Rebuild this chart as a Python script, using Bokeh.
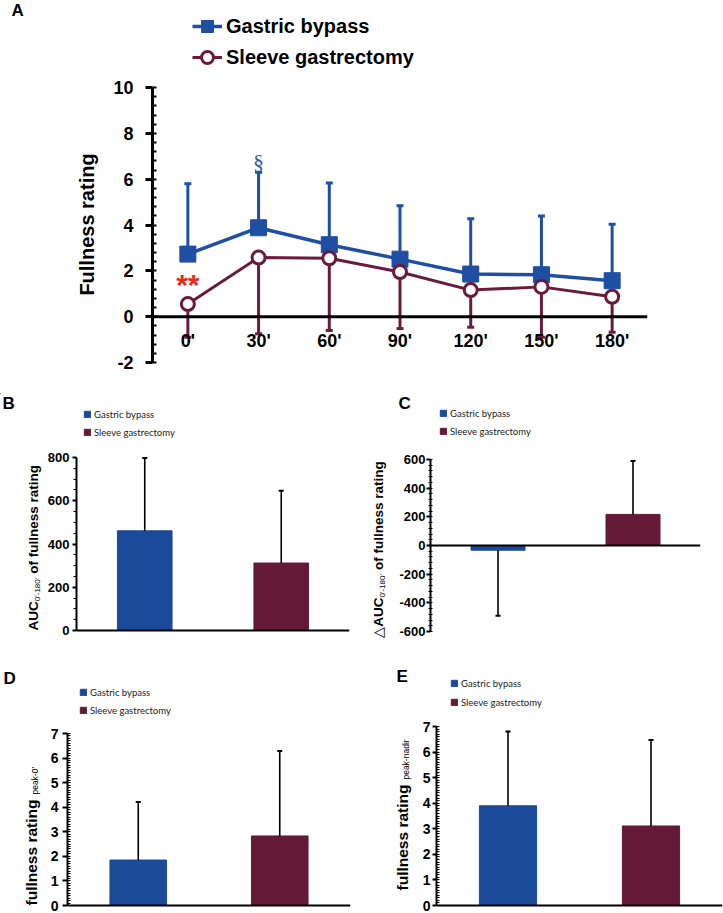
import math
from bokeh.plotting import figure
from bokeh.layouts import column, row
from bokeh.models import Label, Legend, LegendItem, FixedTicker
from bokeh.core.properties import value
from bokeh.embed import file_html
from bokeh.resources import INLINE

# ---------------- data ----------------
time_labels = ["0'", "30'", "60'", "90'", "120'", "150'", "180'"]
gb_mean = [2.73, 3.88, 3.14, 2.51, 1.86, 1.83, 1.57]
gb_sd = [3.07, 2.42, 2.69, 2.33, 2.41, 2.56, 2.46]
sg_mean = [0.55, 2.58, 2.55, 1.95, 1.16, 1.30, 0.87]
sg_sd = [1.45, 3.33, 3.15, 2.47, 1.62, 2.20, 1.55]

groups = ["Gastric bypass", "Sleeve gastrectomy"]
auc_mean = [461, 312]
auc_sd = [337, 334]
dauc_mean = [-33, 217]
dauc_sd = [457, 373]
peak0_mean = [1.85, 2.83]
peak0_sd = [2.36, 3.46]
peaknadir_mean = [3.90, 3.11]
peaknadir_sd = [2.90, 3.36]

# ---------------- style ----------------
FONT = "Liberation Sans"
LEG_FONT = "Lato"
BLUE = "#1f4fa3"
RED = "#6a1b3c"
BLUE_BAR = "#1b4a9b"
RED_BAR = "#641937"
BAR_COLORS = [BLUE_BAR, RED_BAR]

AR = {' ': 278, "'": 191, '-': 333, '0': 556, '1': 556, '8': 556, 'A': 667, 'C': 722, 'U': 722,
      'a': 556, 'd': 556, 'e': 556, 'f': 278, 'g': 556, 'i': 222, 'k': 500, 'l': 222, 'n': 556,
      'o': 556, 'p': 556, 'r': 333, 's': 500, 't': 278, 'u': 556, '△': 770}
ARB = {' ': 278, "'": 238, '-': 333, '0': 556, '1': 556, '8': 556, 'A': 722, 'C': 722, 'U': 722,
       'a': 556, 'd': 611, 'e': 556, 'f': 333, 'g': 611, 'i': 278, 'k': 556, 'l': 278, 'n': 611,
       'o': 611, 'p': 611, 'r': 389, 's': 556, 't': 333, 'u': 611, '△': 770}


def tw(s, size, bold):
    t = ARB if bold else AR
    return sum(t.get(c, 556) for c in s) / 1000 * size


def clean(p):
    p.outline_line_color = None
    p.grid.visible = False
    p.background_fill_color = "white"
    p.border_fill_color = "white"
    return p


class Main:
    """Figure whose frame spans the full figure height; data area placed in pixels."""
    def __init__(self, W, H, left, right, xr, y0, y1, py0, py1):
        ppu = (py0 - py1) / (y1 - y0)
        self.H = H
        self.xr = xr
        self.yr = (y0 - (H - py0) / ppu, y1 + py1 / ppu)
        self.y0, self.y1 = y0, y1
        self.p = clean(figure(width=W, height=H, x_range=xr, y_range=self.yr,
                              output_backend="svg", toolbar_location=None,
                              x_axis_location=None, min_border_left=left,
                              min_border_right=W - right, min_border_top=0,
                              min_border_bottom=0))

    def y(self, py):
        return self.yr[0] + (self.H - py) * (self.yr[1] - self.yr[0]) / self.H


def text_fig(W, H):
    p = figure(width=W, height=H, x_range=(0, W), y_range=(H, 0), output_backend="svg",
               toolbar_location=None, x_axis_location=None, y_axis_location=None,
               min_border=0, min_border_left=0, min_border_right=0, min_border_top=0,
               min_border_bottom=0)
    return clean(p)


def style_yaxis(m, majors, minors, size, lw, tick_out, minor_in, minor_out, standoff):
    ax = m.p.yaxis[0]
    ax.ticker = FixedTicker(ticks=majors, minor_ticks=minors)
    ax.bounds = (m.y0, m.y1)
    ax.major_label_overrides = {t: str(t) for t in majors}
    ax.axis_line_width = lw
    ax.axis_line_color = "black"
    ax.major_tick_line_width = lw
    ax.major_tick_line_color = "black"
    ax.minor_tick_line_width = max(1, lw - 1)
    ax.minor_tick_line_color = "black"
    ax.major_tick_out = tick_out
    ax.major_tick_in = 0
    ax.minor_tick_out = minor_out
    ax.minor_tick_in = minor_in
    ax.major_label_text_font = FONT
    ax.major_label_text_font_size = f"{size}px"
    ax.major_label_text_font_style = "bold"
    ax.major_label_text_color = "black"
    ax.major_label_standoff = standoff


def label(p, x, y, text, size, bold=True, color="black", align="left",
          baseline="top", angle=0.0, font=FONT):
    p.add_layout(Label(x=x, y=y, text=text, text_font=font, text_font_size=f"{size}px",
                       text_font_style="bold" if bold else "normal",
                       text_color=color, text_align=align, text_baseline=baseline,
                       angle=angle))


def gtext(p, x, y, text, size, bold=True, align="left", baseline="top", angle=0.0,
          color="black", font=FONT):
    p.text(x=[x], y=[y], text=[text], angle=angle, text_align=align,
           text_baseline=baseline, text_font=value(font),
           text_font_size=value(f"{size}px"),
           text_font_style="bold" if bold else "normal", text_color=color)


def vlabel(p, segs, cx, py_bottom):
    # segs: (text, size, bold, dx, gap_before_px)
    py = py_bottom
    for text, size, bold, dx, gap in segs:
        py -= gap
        w = tw(text, size, bold)
        gtext(p, cx + dx, py - w / 2, text, size, bold=bold, align="center",
              baseline="middle", angle=math.pi / 2)
        py -= w


def bar_legend(p, rs, loc, spacing=6):
    items = [LegendItem(label=value(g), renderers=[r]) for g, r in zip(groups, rs)]
    lg = Legend(items=items, location=loc, orientation="vertical",
                label_text_font=LEG_FONT, label_text_font_size="9.5px",
                label_text_color="#222222", glyph_width=8, glyph_height=8,
                label_height=12, spacing=spacing, padding=0, margin=0,
                label_standoff=3, border_line_color=None, background_fill_alpha=0)
    p.add_layout(lg)


def bar_panel(m, means, sds, majors, minors, tick_size, tick_out, minor_in, minor_out,
              standoff):
    p = m.p
    style_yaxis(m, majors, minors, tick_size, 2, tick_out, minor_in, minor_out, standoff)
    xs = [i + 0.5 for i in range(len(groups))]
    rs = []
    for i, c in enumerate(BAR_COLORS):
        rs.append(p.vbar(x=[xs[i]], top=[means[i]], width=0.4, fill_color=c, line_color=c))
    ends = [mu + (s if mu >= 0 else -s) for mu, s in zip(means, sds)]
    p.segment(x0=xs, y0=means, x1=xs, y1=ends, line_color="black", line_width=1.6)
    p.scatter(xs, ends, marker="dash", size=5, line_color="black", line_width=2)
    p.segment(x0=[m.xr[0]], y0=[0], x1=[m.xr[1]], y1=[0], line_color="black", line_width=2)
    return rs


# ---------------- panel A ----------------
LA = text_fig(100, 393)
gtext(LA, 11, 0, "A", 17)
gtext(LA, 86, 224, "Fullness rating", 20, align="center", baseline="middle",
      angle=math.pi / 2)

mA = Main(623, 393, 52, 547, (-0.5, len(time_labels) - 0.5), -2, 10, 362, 87)
pA = mA.p
style_yaxis(mA, list(range(-2, 11, 2)), [round(-2 + 0.4 * k, 2) for k in range(31)],
            18, 3, 7, 4, 0, 12)

x_idx = list(range(len(time_labels)))
gb_top = [mu + s for mu, s in zip(gb_mean, gb_sd)]
sg_bot = [mu - s for mu, s in zip(sg_mean, sg_sd)]

pA.segment(x0=x_idx, y0=gb_mean, x1=x_idx, y1=gb_top, line_color=BLUE, line_width=3)
pA.scatter(x_idx, gb_top, marker="dash", size=7, line_color=BLUE, line_width=3)
bline = pA.line(x_idx, gb_mean, line_color=BLUE, line_width=3.5)
bsq = pA.scatter(x_idx, gb_mean, marker="square", size=16, fill_color=BLUE, line_color=BLUE)

pA.segment(x0=x_idx, y0=sg_mean, x1=x_idx, y1=sg_bot, line_color=RED, line_width=3)
pA.scatter(x_idx, sg_bot, marker="dash", size=7, line_color=RED, line_width=3)
rline = pA.line(x_idx, sg_mean, line_color=RED, line_width=3)
rc = pA.scatter(x_idx, sg_mean, marker="circle", size=13, fill_color="white",
                line_color=RED, line_width=3)

pA.segment(x0=[mA.xr[0]], y0=[0], x1=[mA.xr[1]], y1=[0], line_color="black", line_width=3)

for i, t in enumerate(time_labels):
    label(pA, i, mA.y(340), t, 18, align="center", baseline="middle")

label(pA, 0, mA.y(284), "**", 30, color="#e8291c", align="center", baseline="alphabetic")
label(pA, 1, mA.y(161), "§", 22, bold=False, color="#2a5db0", align="center",
      baseline="alphabetic", font="Liberation Serif")

legA = Legend(items=[LegendItem(label=value(groups[0]), renderers=[bline, bsq]),
                     LegendItem(label=value(groups[1]), renderers=[rline, rc])],
              location=(40, 321), orientation="vertical",
              label_text_font=FONT, label_text_font_size="20px", label_text_font_style="bold",
              label_text_color="black",
              glyph_width=30, glyph_height=30, label_height=30, spacing=1, padding=0,
              margin=0, label_standoff=4, border_line_color=None, background_fill_alpha=0)
pA.add_layout(legA)

# ---------------- strip above B / C: letters and legends ----------------
STRIP = text_fig(723, 52)
gtext(STRIP, 2, 0, "B", 17)
gtext(STRIP, 398, 0, "C", 17)
# legend swatches only (kept outside the visible strip range)
swB = [STRIP.vbar(x=[-100], top=[-100], width=1, fill_color=c, line_color=c) for c in BAR_COLORS]
swC = [STRIP.vbar(x=[-100], top=[-100], width=1, fill_color=c, line_color=c) for c in BAR_COLORS]
bar_legend(STRIP, swB, (83, 7))
bar_legend(STRIP, swC, (439, 8))

# ---------------- panel B ----------------
SUB = 8
LB = text_fig(44, 215)
vlabel(LB, [("AUC", 13.5, True, 0, 0), ("0'-180'", SUB, False, 4, 0),
            ("of fullness rating", 13.5, True, 0, 4)], 32.5, 185)
mB = Main(316, 215, 29, 305, (0, 2), 0, 800, 185, 12)
bar_panel(mB, auc_mean, auc_sd, list(range(0, 801, 200)), list(range(0, 801, 50)),
          13, 4, 0, 3, 3)

# ---------------- panel C ----------------
LC = text_fig(36, 215)
vlabel(LC, [("△", 13.5, False, 0, 0), ("AUC", 13.5, True, 0, 0), ("0'-180'", SUB, False, 4, 0),
            ("of fullness rating", 13.5, True, 0, 4)], 18, 191.7)
mC = Main(327, 215, 32, 304, (0, 2), -600, 600, 186, 14)
bar_panel(mC, dauc_mean, dauc_sd, list(range(-600, 601, 200)),
          list(range(-600, 601, 40)), 13, 4, 2, 2, 1)

# ---------------- panel D ----------------
LD = text_fig(43, 252)
gtext(LD, 3, 8.5, "D", 17)
vlabel(LD, [("fullness rating", 15.5, True, 0, 0), ("peak-0'", 8.5, False, 3.5, 5)],
       30.5, 245)
mD = Main(317, 252, 24, 307, (0, 2), 0, 7, 245, 73)
rD = bar_panel(mD, peak0_mean, peak0_sd, list(range(0, 8)),
               [round(0.1 * k, 1) for k in range(71)], 14, 5, 3, 0, 4)
bar_legend(mD.p, rD, (12, 196))

# ---------------- panel E ----------------
LE = text_fig(58, 252)
gtext(LE, 36, 6.5, "E", 17)
vlabel(LE, [("fullness rating", 15.5, True, 0, 0), ("peak-nadir", 8.5, False, 3.5, 5)],
       42, 230)
mE = Main(305, 252, 18, 304, (0, 2), 0, 7, 245, 66)
rE = bar_panel(mE, peaknadir_mean, peaknadir_sd, list(range(0, 8)),
               [round(0.1 * k, 1) for k in range(71)], 14, 4, 3, 0, 2)
bar_legend(mE.p, rE, (14, 204), spacing=7)

layout = column(row(LA, pA), STRIP, row(LB, mB.p, LC, mC.p), row(LD, mD.p, LE, mE.p))
open("out.html", "w").write(file_html(layout, INLINE))
